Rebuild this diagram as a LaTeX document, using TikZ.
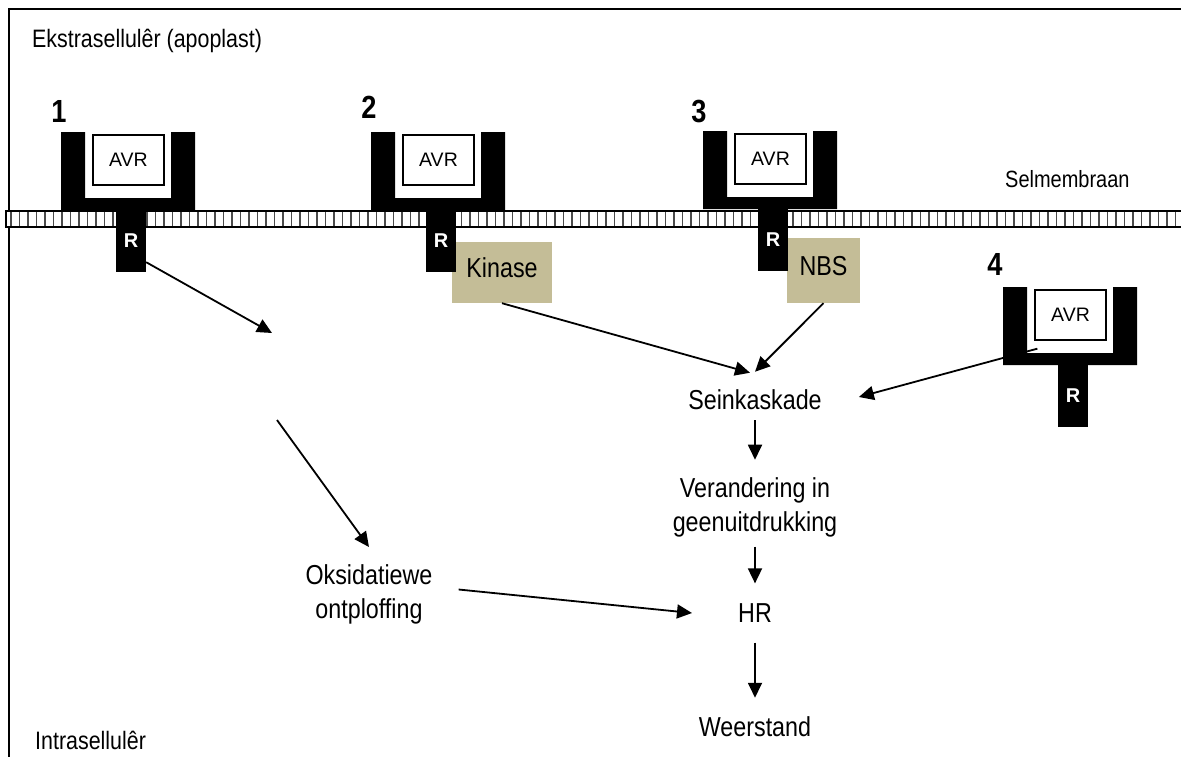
\documentclass[tikz,border=0pt]{standalone}
\usepackage{fontspec}
\setmainfont{Liberation Sans}
\newfontfamily\narrowfont{Liberation Sans}[FakeStretch=0.85]
\usetikzlibrary{arrows.meta}

\definecolor{domain}{RGB}{196,189,151}

\begin{document}
\begin{tikzpicture}[x=1pt,y=-1pt,>={Triangle[length=15pt,width=14pt]},
 lbl/.style={align=center,inner sep=2pt,
 font=\narrowfont\fontsize{27.4}{34}\selectfont},
 side/.style={inner sep=0pt,font=\narrowfont\fontsize{25.2}{30}\selectfont},
 num/.style={inner sep=0pt,font=\narrowfont\fontsize{32}{38}\selectfont\bfseries},
 avr/.style={draw,line width=1.3pt,fill=white,minimum width=71pt,
 minimum height=50pt,inner sep=0pt,font=\fontsize{19.5}{24}\selectfont},
 stem/.style={fill=black,text=white,minimum width=30pt,minimum height=62pt,
 inner sep=0pt,font=\fontsize{20}{24}\selectfont\bfseries},
 domainbox/.style={fill=domain,inner sep=0pt,text depth=10pt,
 font=\narrowfont\fontsize{27.4}{32}\selectfont},
 arr/.style={->,line width=1.8pt},
 receptor/.pic={
 \fill (0,0) -- (24,0) -- (24,66) -- (110,66) -- (110,0) -- (134,0)
 -- (134,78) -- (0,78) -- cycle;
 \node[stem] (-stem) at (70,109) {R};
 \node[avr] (-avr) at (67.5,28) {AVR};
 }]
\clip (0,0) rectangle (1181,756);
\draw[line width=1.4pt] (9,9) rectangle (1200,770);
% membrane
\draw[line width=1.5pt,fill=white] (6,211) rectangle (1200,227);
\foreach \x in {11,19.5,...,1190}
 \draw[line width=1.9pt,black!70] (\x,212) -- (\x,226);
\node[domainbox,minimum width=100pt,minimum height=61pt] (kin) at (502,272.5) {Kinase};
\node[domainbox,minimum width=73pt,minimum height=65pt] (nbs) at (823.5,270.5) {NBS};
% receptors
\pic (r1) at (61,132) {receptor};
\pic (r2) at (371,132) {receptor};
\pic (r3) at (703,131) {receptor};
\pic (r4) at (1003,287) {receptor};
\node[num,anchor=base] (n1) at (59,122) {1};
\node[num,anchor=base] (n2) at (369,118) {2};
\node[num,anchor=base] (n3) at (699,122) {3};
\node[num,anchor=base] (n4) at (995,275) {4};
\node[side,anchor=base west] (ekstra) at (32,47) {Ekstrasellulêr (apoplast)};
\node[side,anchor=base west] (intra) at (35,749) {Intrasellulêr};
\node[side,anchor=base west,font=\narrowfont\fontsize{23.5}{28}\selectfont]
 (membraan) at (1005,187) {Selmembraan};
% pathway
\node[lbl] (sein) at (755,400) {Seinkaskade};
\node[lbl] (veran) at (755,507.7) {Verandering in\\geenuitdrukking};
\node[lbl] (hr) at (755,613) {HR};
\node[lbl] (weer) at (755,727) {Weerstand};
\node[lbl] (oks) at (369,594.5) {Oksidatiewe\\ontploffing};
\coordinate (c1a) at (272,333);
\coordinate (c1b) at (277,420);
\draw[arr] ([yshift=10pt]r1-stem.south east) -- (c1a);
\draw[arr] (c1b) -- ([yshift=15.5pt]oks.north);
\draw[arr] ([xshift=24pt,yshift=5pt]oks.east) -- ([xshift=-44pt]hr.west);
\draw[arr] (kin.south) -- ([xshift=-5pt,yshift=15pt]sein.north);
\draw[arr] (nbs.south) -- ([yshift=16pt]sein.north);
\draw[arr] ([xshift=3pt,yshift=-8pt]r4-avr.south west)
 -- ([xshift=35pt,yshift=3pt]sein.east);
\draw[arr] ([yshift=-8pt]sein.south) -- ([yshift=16pt]veran.north);
\draw[arr] ([yshift=-7pt]veran.south) -- ([yshift=18pt]hr.north);
\draw[arr] ([yshift=-18pt]hr.south) -- ([yshift=17pt]weer.north);
\end{tikzpicture}
\end{document}
